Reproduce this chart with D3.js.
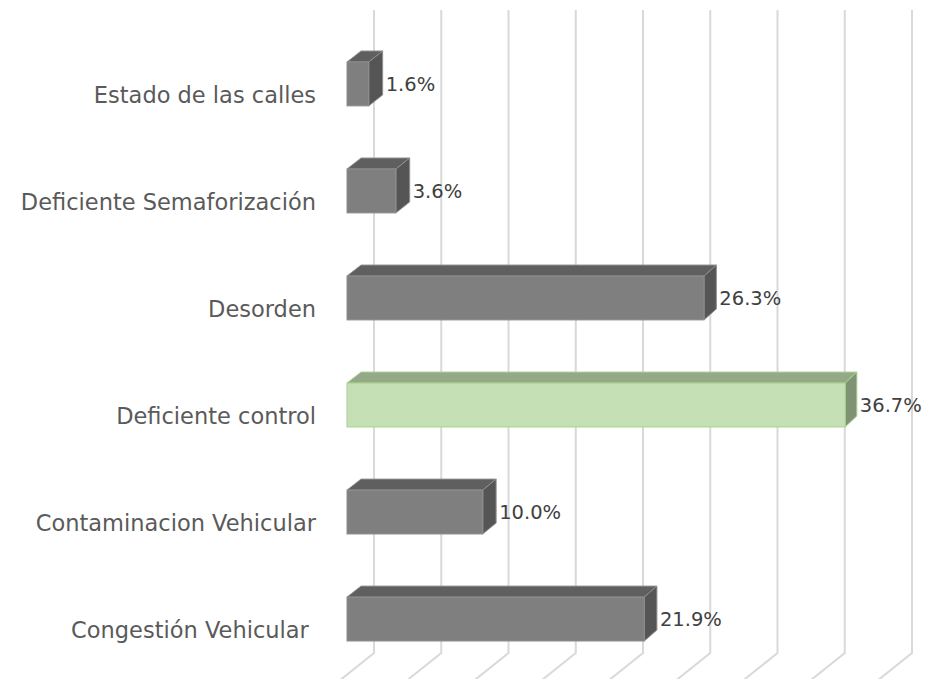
<!DOCTYPE html>
<html>
<head>
<meta charset="utf-8">
<script src="https://cdn.jsdelivr.net/npm/d3@7"></script>
<style>
  body { margin: 0; background: #fff; }
  svg { display: block; font-family: "DejaVu Sans", sans-serif; }
  .cat { white-space: pre; }
</style>
</head>
<body>
<div id="chart"></div>
<script>
// chart data
const categories = ["Estado de las calles", "Deficiente Semaforización", "Desorden",
  "Deficiente control", "Contaminacion Vehicular", "Congestión Vehicular "];
const values = [1.6, 3.6, 26.3, 36.7, 10.0, 21.9];
const highlighted = ["Deficiente control"];
const tickValues = [0, 5, 10, 15, 20, 25, 30, 35, 40];

const width = 926;
const height = 679;

// 3D look: back wall and front plane of the bars
const wallTop = 10;
const wallBottom = 653;
const depthRatio = 0.52;   // how deep the bar is compared to the whole floor
const depthY = 11;         // vertical shift of the bar's back face

const svg = d3.select("#chart").append("svg")
    .attr("width", width)
    .attr("height", height);

// back wall scale and front scale (slight perspective)
const xBack = d3.scaleLinear().domain([0, 40]).range([374, 912]);
const xFront = d3.scaleLinear().domain([0, 40]).range([347, 890]);

const y = d3.scaleBand()
    .domain(categories)
    .range([62, 641])
    .paddingInner(0.59)
    .paddingOuter(0);

// gridlines: vertical on the back wall, then down-left over the floor
svg.append("g").selectAll("path")
  .data(tickValues)
  .enter()
  .append("path")
    .attr("d", d => "M" + xBack(d) + "," + wallTop + "V" + wallBottom +
      "L" + (xBack(d) - 40) + "," + (wallBottom + 32))
    .attr("fill", "none")
    .attr("stroke", "#d9d9d9")
    .attr("stroke-width", 2);

const data = categories.map((c, i) => ({ cat: c, value: values[i] }));

const colors = {
  gray: { front: "#7f7f7f", top: "#5f5f5f", side: "#555555", edge: "#8e8e8e" },
  green: { front: "#c5e0b4", top: "#94a987", side: "#7f9374", edge: "#a9d08e" }
};

const bars = svg.append("g").selectAll("g")
  .data(data)
  .enter()
  .append("g");

bars.each(function(d) {
  const g = d3.select(this);
  const c = highlighted.includes(d.cat) ? colors.green : colors.gray;
  const x0 = xFront(0), x1 = xFront(d.value);
  const y0 = y(d.cat), y1 = y(d.cat) + y.bandwidth();
  const dx0 = depthRatio * (xBack(0) - xFront(0));
  const dx1 = depthRatio * (xBack(d.value) - xFront(d.value));

  g.append("polygon")
    .attr("points", [[x0, y0], [x1, y0], [x1 + dx1, y0 - depthY], [x0 + dx0, y0 - depthY]].join(" "))
    .attr("fill", c.top)
    .attr("stroke", c.edge)
    .attr("stroke-linejoin", "round");

  g.append("polygon")
    .attr("points", [[x1, y0], [x1 + dx1, y0 - depthY], [x1 + dx1, y1 - depthY], [x1, y1]].join(" "))
    .attr("fill", c.side)
    .attr("stroke", c.edge)
    .attr("stroke-linejoin", "round");

  g.append("rect")
    .attr("x", x0)
    .attr("y", y0)
    .attr("width", x1 - x0)
    .attr("height", y1 - y0)
    .attr("fill", c.front)
    .attr("stroke", c.edge);

  g.append("text")
    .attr("x", x1 + dx1 + 3)
    .attr("y", (y0 + y1) / 2)
    .attr("dy", "0.35em")
    .attr("fill", "#404040")
    .style("font-size", "19.5px")
    .text(d3.format(".1f")(d.value) + "%");
});

// category labels
svg.append("g").selectAll("text")
  .data(categories)
  .enter()
  .append("text")
    .attr("class", "cat")
    .attr("x", 316)
    .attr("y", d => y(d) + y.bandwidth() / 2 + 11)
    .attr("dy", "0.35em")
    .attr("text-anchor", "end")
    .attr("fill", "#5a5a5a")
    .style("font-size", "22.5px")
    .text(d => d);
</script>
</body>
</html>
